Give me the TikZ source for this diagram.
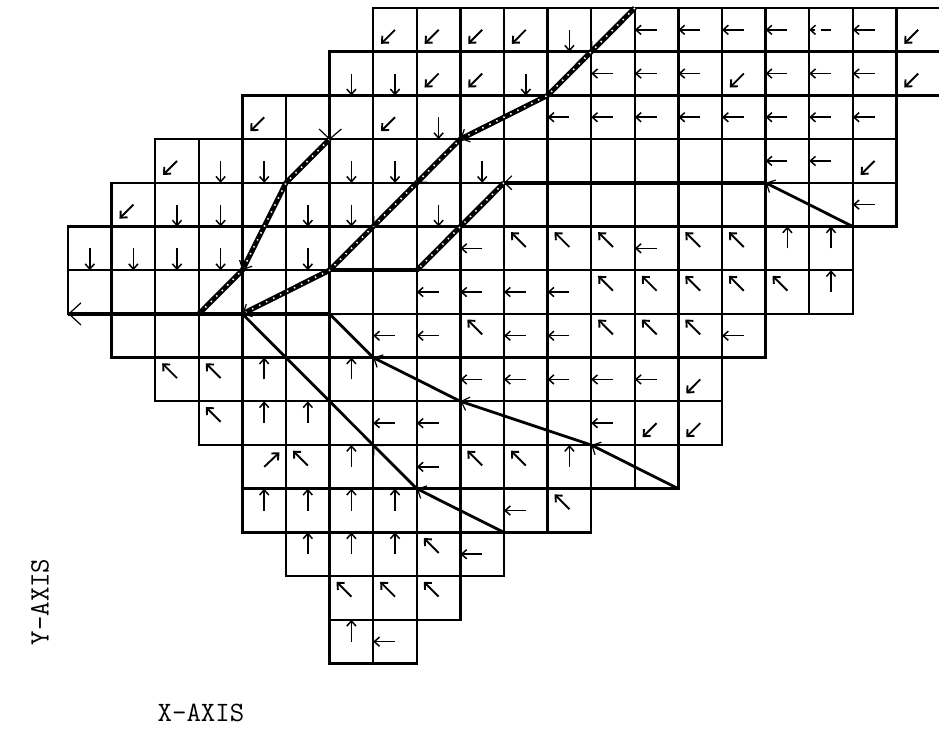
\documentclass[tikz,border=0pt]{standalone}
\usetikzlibrary{arrows.meta,calc}
\begin{document}
\begin{tikzpicture}[x=0.5pt,y=-0.5pt,
  grid/.style={line width=1.2pt, black},
  carrow/.style={line width=0.75pt, -{Straight Barb[length=2.6pt,width=4.6pt]}},
  darrow/.style={line width=0.95pt, -{Straight Barb[length=2.6pt,width=4.8pt]}},
  hatch/.style={line width=2.6pt, black, line join=round,
    postaction={draw=white, line width=0.8pt, dash pattern=on 0.7pt off 3.2pt}},
  solidA/.style={line width=1.4pt, line join=round},
  solidB/.style={line width=2.1pt},
  vbarb/.style={line width=0.6pt, -{Straight Barb[length=3.5pt,width=7pt]}},
  lab/.style={font=\fontsize{14}{16}\selectfont\ttfamily, inner sep=0pt}
]
\useasboundingbox (0,0) rectangle (939,731);
\fill[white] (0,0) rectangle (939,731);
\begin{scope}[shift={(68,8)}, x=21.8pt, y=-21.85pt]
% grid cells
\foreach \r/\a/\b in {0/7/19,1/6/19,2/4/18,3/2/18,4/1/18,5/0/17,6/0/17,7/1/15,8/2/14,9/3/14,10/4/13,11/4/11,12/5/9,13/6/8,14/6/7}
  \foreach \c in {\a,...,\b}
    \draw[grid] (\c,\r) rectangle ++(1,1);
% left arrows
\foreach \c/\r in {13/0,14/0,15/0,16/0,18/0,12/1,13/1,14/1,16/1,17/1,18/1,11/2,12/2,13/2,14/2,15/2,16/2,17/2,18/2,16/3,17/3,18/4,9/5,13/5,8/6,9/6,10/6,11/6,7/7,8/7,10/7,11/7,15/7,9/8,10/8,11/8,12/8,13/8,7/9,8/9,12/9,8/10,10/11,9/12,7/14}
  \draw[carrow] (\c+0.5,\r+0.5) -- (\c,\r+0.5);
% broken left arrow
\draw[line width=0.75pt] (17.5,0.5) -- (17.28,0.5);
\draw[carrow] (17.14,0.5) -- (17,0.5);
% down arrows
\foreach \c/\r in {11/0,6/1,7/1,10/1,8/2,3/3,4/3,6/3,7/3,9/3,2/4,3/4,5/4,6/4,8/4,0/5,1/5,2/5,3/5,5/5}
  \draw[carrow] (\c+0.5,\r+0.5) -- (\c+0.5,\r+1);
% up arrows
\foreach \c/\r in {16/5,17/5,17/6,4/8,6/8,4/9,5/9,6/10,11/10,4/11,5/11,6/11,7/11,5/12,6/12,7/12,6/14}
  \draw[carrow] (\c+0.5,\r+0.5) -- (\c+0.5,\r);
% down-left arrows
\foreach \c/\r in {7/0,8/0,9/0,10/0,19/0,8/1,9/1,15/1,19/1,4/2,7/2,2/3,18/3,1/4,14/8,13/9,14/9}
  \draw[darrow] (\c+0.5,\r+0.5) -- (\c+0.18,\r+0.82);
% up-left arrows
\foreach \c/\r in {10/5,11/5,12/5,14/5,15/5,12/6,13/6,14/6,15/6,16/6,9/7,12/7,13/7,14/7,2/8,3/8,3/9,5/10,9/10,10/10,11/11,8/12,6/13,7/13,8/13}
  \draw[darrow] (\c+0.5,\r+0.47) -- (\c+0.16,\r+0.13);
% up-right arrow
\draw[darrow] (4.5,10.5) -- (4.85,10.17);
% vertices of the thick lines
\foreach \c/\r in {13/0,12/1,11/2,9/3,8/4,7/5,6/6,4/7,6/3,5/4,4/6,3/7,18/5,16/4,10/4,9/5,8/6,0/7,6/7,14/11,12/10,9/9,7/8,10/12,8/11,7/10,6/9,5/8}
  \coordinate (v\c-\r) at (\c,\r);
% thick lines
\draw[solidB] (v6-7) -- (v0-7);
\draw[solidB] (v16-4) -- (v10-4);
\draw[solidB] (v8-6) -- (v6-6);
\draw[solidA] (v18-5) -- (v16-4);
\draw[solidA] (v14-11) -- (v12-10) -- (v9-9) -- (v7-8) -- (v6-7);
\draw[solidA] (v10-12) -- (v8-11) -- (v7-10) -- (v6-9) -- (v5-8) -- (v4-7);
\draw[hatch] (v13-0) -- (v12-1) -- (v11-2) -- (v9-3) -- (v8-4) -- (v7-5) -- (v6-6) -- (v4-7);
\draw[hatch] (v6-3) -- (v5-4) -- (v4-6) -- (v3-7);
\draw[hatch] (v10-4) -- (v9-5) -- (v8-6);
% vertex marks
\foreach \a/\b in {v13-0/v12-1,v11-2/v9-3,v9-3/v8-4,v8-4/v7-5,v7-5/v6-6,v6-6/v4-7,v5-4/v4-6,v4-6/v3-7,v18-5/v16-4,v16-4/v10-4,v10-4/v9-5,v9-5/v8-6,v14-11/v12-10,v12-10/v9-9,v9-9/v7-8,v7-8/v6-7,v10-12/v8-11,v8-11/v7-10,v5-8/v4-7}
  \draw[vbarb] ($(\b)!2pt!(\a)$) -- (\b);
\draw[line width=0.6pt, -{Straight Barb[length=6pt,width=11pt]}] ($(v0-7)!3pt!(v6-7)$) -- (v0-7);
\draw[line width=0.6pt] ($(v6-3)+(-0.24,-0.23)$) -- (v6-3) -- ($(v6-3)+(0.27,-0.23)$);
\end{scope}
\node[lab, rotate=90] (ylab) at (40,602) {Y-AXIS};
\node[lab] (xlab) at (201,713) {X-AXIS};
\end{tikzpicture}
\end{document}
